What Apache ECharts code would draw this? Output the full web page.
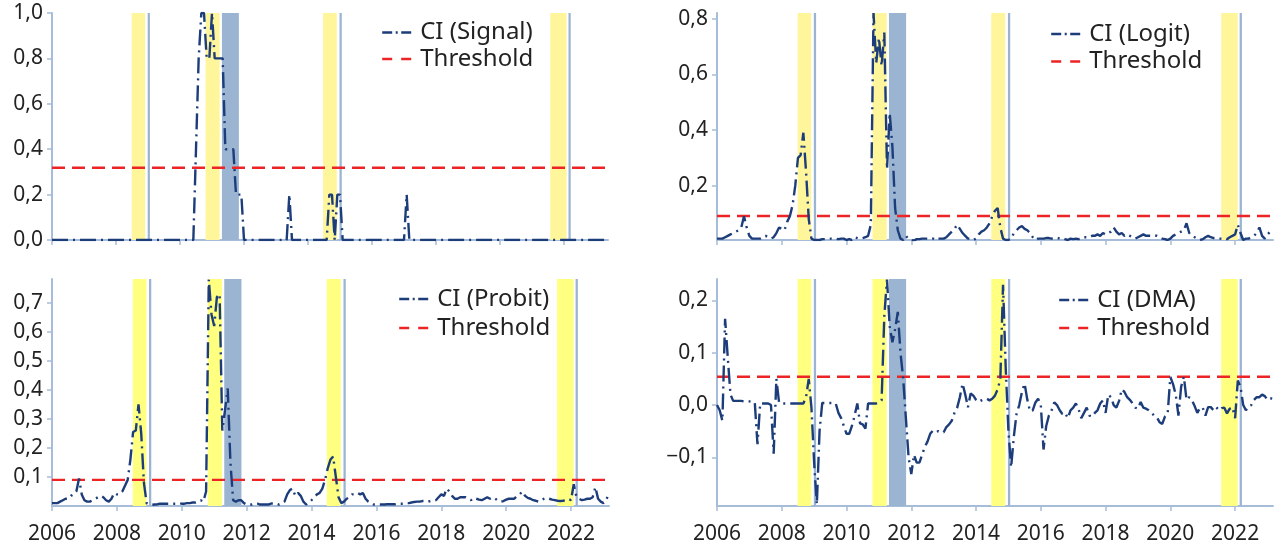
<!DOCTYPE html>
<html><head><meta charset="utf-8">
<script src="https://cdn.jsdelivr.net/npm/echarts@6/dist/echarts.min.js"></script>
<style>html,body{margin:0;padding:0;background:#fff}#c{width:1280px;height:545px}</style>
</head><body><div id="c"></div><script>
// ---------- data (monthly, starting January 2006) ----------
const startYear = 2006;
const xTicks = [2006, 2008, 2010, 2012, 2014, 2016, 2018, 2020, 2022];

const signal = [
  0,0,0,0,0,0,0,0,0,0,0,0,            // 2006
  0,0,0,0,0,0,0,0,0,0,0,0,            // 2007
  0,0,0,0,0,0,0,0,0,0,0,0,            // 2008
  0,0,0,0,0,0,0,0,0,0,0,0,            // 2009
  0,0,0,0,0,0,0.4,0.8,1.0,1.0,0.8,0.8, // 2010
  1.0,0.8,0.8,0.8,0.8,0.4,0.4,0.4,0.4,0.2,0.2,0.2, // 2011
  0,0,0,0,0,0,0,0,0,0,0,0,            // 2012
  0,0,0,0,0,0.2,0,0,0,0,0,0,          // 2013
  0,0,0,0,0,0,0,0,0.2,0.2,0,0.2,      // 2014
  0.2,0,0,0,0,0,0,0,0,0,0,0,          // 2015
  0,0,0,0,0,0,0,0,0,0,0,0,            // 2016
  0,0.2,0,0,0,0,0,0,0,0,0,0,          // 2017
  0,0,0,0,0,0,0,0,0,0,0,0,            // 2018
  0,0,0,0,0,0,0,0,0,0,0,0,            // 2019
  0,0,0,0,0,0,0,0,0,0,0,0,            // 2020
  0,0,0,0,0,0,0,0,0,0,0,0,            // 2021
  0,0,0,0,0,0,0,0,0,0,0,0,            // 2022
  0,0,0,0,0                            // 2023
];

const logit = [
  0.01,0.01,0.01,0.015,0.02,0.025,0.03,0.035,0.04,0.05,0.09,0.05,
  0.02,0.01,0.01,0.01,0.01,0.015,0.02,0.015,0.01,0.015,0.03,0.05,
  0.045,0.04,0.07,0.09,0.13,0.2,0.3,0.31,0.39,0.25,0.08,0.01,
  0.005,0.005,0.005,0.008,0.008,0.01,0.01,0.01,0.01,0.008,0.01,0.01,
  0.005,0.008,0.005,0.015,0.012,0.01,0.012,0.015,0.02,0.06,0.82,0.64,
  0.73,0.63,0.75,0.26,0.46,0.34,0.12,0.04,0.01,0.005,0.02,0.008,
  0.005,0.003,0.008,0.008,0.01,0.01,0.01,0.008,0.01,0.005,0.01,0.01,
  0.01,0.015,0.025,0.035,0.045,0.06,0.045,0.03,0.02,0.01,0.01,0.005,
  0.01,0.025,0.035,0.04,0.05,0.065,0.09,0.11,0.12,0.05,0.01,0.005,
  0.005,0.01,0.03,0.04,0.05,0.055,0.045,0.04,0.03,0.015,0.005,0.01,
  0.01,0.01,0.012,0.012,0.01,0.012,0.013,0.01,0.012,0.008,0.005,0.01,
  0.008,0.01,0.008,0.01,0.015,0.015,0.015,0.02,0.02,0.025,0.02,0.03,
  0.025,0.03,0.035,0.05,0.035,0.025,0.03,0.02,0.025,0.02,0.015,0.01,
  0.015,0.02,0.025,0.02,0.02,0.02,0.02,0.02,0.015,0.01,0.008,0.005,
  0.01,0.02,0.025,0.03,0.035,0.04,0.065,0.03,0.02,0.015,0.01,0.005,
  0.008,0.015,0.02,0.015,0.012,0.012,0.01,0.01,0.012,0.008,0.015,0.02,
  0.025,0.06,0.03,0.005,0.01,0.01,0.015,0.02,0.03,0.05,0.02,0.01,
  0.025,0.035,0.04
];

const probit = [
  0.01,0.01,0.01,0.015,0.02,0.025,0.025,0.035,0.04,0.05,0.095,0.04,
  0.02,0.015,0.015,0.02,0.025,0.03,0.035,0.03,0.02,0.015,0.025,0.045,
  0.04,0.04,0.05,0.07,0.09,0.16,0.255,0.26,0.35,0.25,0.08,0.01,
  0.005,0.004,0.005,0.006,0.008,0.008,0.008,0.008,0.008,0.008,0.008,0.01,
  0.008,0.008,0.01,0.01,0.012,0.012,0.015,0.02,0.015,0.05,0.78,0.66,
  0.62,0.72,0.73,0.26,0.33,0.405,0.15,0.02,0.015,0.02,0.02,0.01,
  0.005,0.005,0.005,0.008,0.008,0.005,0.005,0.005,0.005,0.008,0.01,0.008,
  0.005,0.008,0.015,0.04,0.055,0.06,0.035,0.045,0.035,0.015,0.005,0.01,
  0.02,0.03,0.04,0.045,0.06,0.09,0.13,0.16,0.17,0.1,0.03,0.01,
  0.015,0.025,0.03,0.04,0.04,0.045,0.04,0.045,0.025,0.015,0.01,0.005,
  0.005,0.005,0.005,0.005,0.006,0.006,0.006,0.006,0.008,0.008,0.008,0.01,
  0.01,0.012,0.014,0.015,0.015,0.017,0.017,0.015,0.017,0.017,0.02,0.03,
  0.04,0.035,0.06,0.05,0.035,0.025,0.025,0.03,0.03,0.03,0.025,0.02,
  0.028,0.025,0.022,0.02,0.025,0.03,0.025,0.03,0.025,0.018,0.015,0.017,
  0.022,0.025,0.025,0.025,0.035,0.04,0.05,0.035,0.028,0.025,0.02,0.018,
  0.015,0.02,0.025,0.028,0.025,0.022,0.02,0.018,0.017,0.018,0.02,0.025,
  0.02,0.075,0.03,0.025,0.02,0.022,0.025,0.025,0.03,0.065,0.025,0.015,
  0.01,0.02,0.045
];

const dma = [
  0.0,-0.01,-0.03,0.165,0.09,0.02,0.008,0.008,0.008,0.008,0.007,0.007,
  0.007,0.006,0.005,-0.075,0.003,0.003,0.003,0.003,0.0,-0.093,0.05,0.005,
  0.003,0.003,0.003,0.003,0.003,0.003,0.003,0.003,0.003,0.015,0.05,-0.005,
  -0.11,-0.19,-0.05,0.004,0.004,0.004,0.004,0.004,0.003,-0.015,-0.025,-0.04,
  -0.055,-0.055,-0.04,-0.02,0.003,-0.035,-0.037,-0.045,0.003,0.003,0.003,0.003,
  0.005,0.009,0.17,0.24,0.15,0.12,0.145,0.178,0.1,0.05,-0.025,-0.1,
  -0.132,-0.095,-0.11,-0.11,-0.095,-0.08,-0.07,-0.055,-0.049,-0.052,-0.05,-0.052,
  -0.052,-0.042,-0.037,-0.03,-0.015,-0.005,0.015,0.041,0.02,-0.004,0.022,0.018,
  0.01,0.006,0.009,0.011,0.012,0.009,0.012,0.018,0.03,0.05,0.23,0.07,
  -0.05,-0.119,-0.06,-0.017,0.0,0.025,0.041,0.01,-0.012,-0.01,0.005,0.012,
  0.0,-0.085,-0.04,-0.02,-0.01,0.005,0.0,-0.01,-0.017,-0.015,-0.025,-0.01,
  -0.005,0.003,-0.008,-0.025,-0.015,-0.005,-0.02,-0.022,-0.015,-0.01,0.003,0.009,
  -0.015,0.02,0.015,0.0,-0.005,0.008,0.03,0.025,0.015,0.01,0.003,-0.005,
  -0.007,0.006,-0.005,-0.007,-0.01,-0.015,-0.02,-0.023,-0.033,-0.036,-0.022,-0.017,
  0.054,0.04,0.02,-0.02,0.035,0.054,0.01,0.015,0.009,-0.002,-0.015,-0.005,
  -0.005,-0.02,-0.004,-0.004,-0.01,-0.004,-0.01,-0.006,-0.005,-0.016,-0.007,-0.004,
  -0.025,0.047,0.035,0.0,-0.01,-0.002,0.0,0.01,0.015,0.015,0.02,0.017,
  0.01,0.013,0.012
];

const thresholdSignal = 0.318;
const thresholdLogit = 0.091;
const thresholdProbit = 0.09;
const thresholdDma = 0.054;

// shaded periods (decimal years)
const yellowPeriods = [[2008.49, 2008.91], [2010.80, 2011.24], [2014.47, 2014.90], [2021.57, 2022.08]];
const bluePeriods = [[2008.99, 2009.06], [2011.31, 2011.84], [2014.985, 2015.055], [2022.14, 2022.21]];

const seriesNames = ['CI (Signal)', 'CI (Logit)', 'CI (Probit)', 'CI (DMA)'];

// y-axis tick labels per panel
const yTicksSignal = [0, 0.2, 0.4, 0.6, 0.8, 1.0];
const yTicksLogit = [0.2, 0.4, 0.6, 0.8];
const yTicksProbit = [0.1, 0.2, 0.3, 0.4, 0.5, 0.6, 0.7];
const yTicksDma = [-0.1, 0, 0.1, 0.2];

// ---------- layout / style ----------
const FONT = 'Noto Sans';
const NAVY = '#1d3d7a';
const RED = '#ec2426';
const AXIS = '#a7bcd8';
const TXT = '#222222';

const panels = [
  {values: signal, thr: thresholdSignal, yTicks: yTicksSignal, ymin: 0, ymax: 1.0, xmax: 2023.375,
   grid: {left: 52, top: 13, width: 556, height: 227}, showX: false, yellow: '#fff69c',
   legend: {left: 381, top: 19.5, gap: 0.5}},
  {values: logit, thr: thresholdLogit, yTicks: yTicksLogit, ymin: 0.005, ymax: 0.82, xmax: 2023.17,
   grid: {left: 717, top: 13, width: 556, height: 227}, showX: false, yellow: '#fff69c',
   legend: {left: 1050, top: 21, gap: 1.5}},
  {values: probit, thr: thresholdProbit, yTicks: yTicksProbit, ymin: 0, ymax: 0.782, xmax: 2023.17,
   grid: {left: 52, top: 279, width: 557, height: 227}, showX: true, yellow: '#ffff80',
   legend: {left: 398, top: 286, gap: 3}},
  {values: dma, thr: thresholdDma, yTicks: yTicksDma, ymin: -0.193, ymax: 0.241, xmax: 2023.17,
   grid: {left: 717, top: 279, width: 556, height: 227}, showX: true, yellow: '#ffff80',
   legend: {left: 1058, top: 287, gap: 2}}
];

function fmt(v) {
  const s = Math.abs(v).toFixed(1).replace('.', ',');
  return v < -1e-9 ? '\u2212' + s : s;
}

const option = {
  animation: false,
  backgroundColor: '#ffffff',
  textStyle: {fontFamily: FONT},
  grid: [], xAxis: [], yAxis: [], series: [], legend: []
};

panels.forEach((p, i) => {
  option.grid.push(Object.assign({containLabel: false}, p.grid));
  option.xAxis.push({
    type: 'value', gridIndex: i, min: startYear, max: p.xmax,
    axisLine: {show: true, onZero: false, lineStyle: {color: AXIS, width: 2}},
    axisTick: {show: true, length: 5, inside: false, customValues: xTicks, lineStyle: {color: AXIS, width: 1.5}},
    axisLabel: {show: p.showX, customValues: xTicks, fontSize: 21, color: TXT, fontFamily: FONT, margin: 18,
                formatter: v => String(Math.round(v))},
    splitLine: {show: false}
  });
  option.yAxis.push({
    type: 'value', gridIndex: i, min: p.ymin, max: p.ymax,
    axisLine: {show: true, onZero: false, lineStyle: {color: AXIS, width: 2}},
    axisTick: {show: true, length: 5, customValues: p.yTicks, lineStyle: {color: AXIS, width: 1.5}},
    axisLabel: {show: true, customValues: p.yTicks, fontSize: 21, color: TXT, fontFamily: FONT, margin: 9,
                formatter: v => fmt(v)},
    splitLine: {show: false}
  });
  const pts = p.values.map((v, k) => [startYear + k / 12, v]);
  const areas = [];
  yellowPeriods.forEach(b => areas.push([{xAxis: b[0], itemStyle: {color: p.yellow}}, {xAxis: b[1]}]));
  bluePeriods.forEach(b => areas.push([{xAxis: b[0], itemStyle: {color: '#9ab4d2'}}, {xAxis: b[1]}]));
  option.series.push({
    name: 'bands' + i, type: 'line', xAxisIndex: i, yAxisIndex: i, z: 1, silent: true,
    symbol: 'none', data: [[startYear, p.thr], [p.xmax, p.thr]],
    lineStyle: {opacity: 0},
    markArea: {silent: true, itemStyle: {opacity: 1}, data: areas}
  });
  option.series.push({
    name: 'Threshold', type: 'line', xAxisIndex: i, yAxisIndex: i, z: 3, symbol: 'none',
    data: [[startYear, p.thr], [p.xmax, p.thr]],
    lineStyle: {color: RED, width: 2.4, type: [13, 7]}, itemStyle: {color: RED}
  });
  option.series.push({
    name: seriesNames[i], type: 'line', xAxisIndex: i, yAxisIndex: i, z: 4, symbol: 'none',
    showSymbol: false, data: pts, clip: true,
    lineStyle: {color: NAVY, width: 2.4, type: [16, 5, 2, 5]}, itemStyle: {color: NAVY}
  });
  option.legend.push({
    show: true, orient: 'vertical', left: p.legend.left, top: p.legend.top, padding: 0,
    itemWidth: 29, itemHeight: 14, itemGap: p.legend.gap, selectedMode: false,
    textStyle: {fontSize: 24, color: TXT, fontFamily: FONT, lineHeight: 26, padding: [0, 0, 0, 4]},
    data: [
      {name: seriesNames[i], itemStyle: {opacity: 0},
       lineStyle: {type: [10, 3.5, 2, 3.5], width: 2.4, color: NAVY}},
      {name: 'Threshold', itemStyle: {opacity: 0},
       lineStyle: {type: [10, 9], width: 2.4, color: RED}}
    ]
  });
});

const chart = echarts.init(document.getElementById('c'), null, {renderer: 'canvas'});
chart.setOption(option);
</script></body></html>
